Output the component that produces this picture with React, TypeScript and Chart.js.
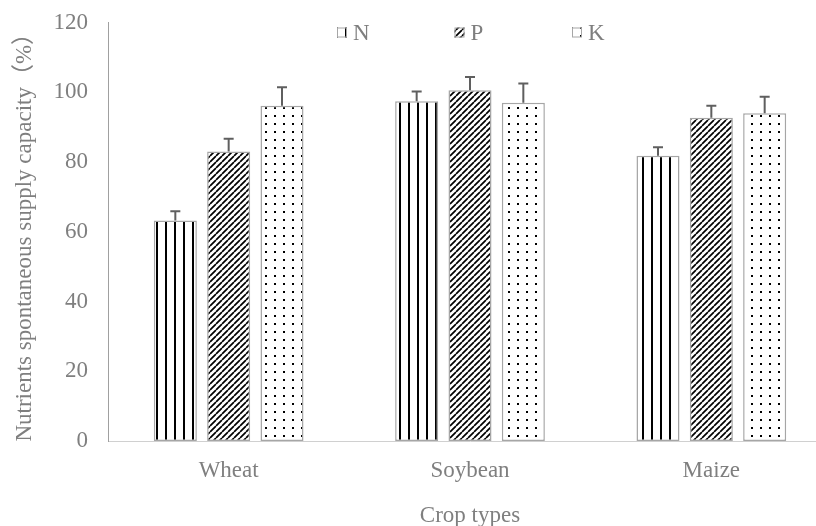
import React, { useEffect, useRef } from 'react';
import { Chart, registerables } from 'chart.js';

Chart.register(...registerables);

const categories = ['Wheat', 'Soybean', 'Maize'];
const seriesNames = ['N', 'P', 'K'];
const nValues = [63.2, 97.4, 81.8];
const pValues = [83.0, 100.6, 92.7];
const kValues = [96.1, 97.0, 94.0];
const nErrors = [2.7, 2.8, 2.4];
const pErrors = [3.7, 3.8, 3.4];
const kErrors = [5.3, 5.5, 4.7];
const yMin = 0;
const yMax = 120;
const yStep = 20;
const xTitle = 'Crop types';
const yTitle = 'Nutrients spontaneous supply capacity（%）';

const FONT = "'Liberation Serif', 'Times New Roman', 'Noto Sans CJK SC', serif";
const TEXT_GRAY = '#7f7f7f';

function makePattern(kind: string): CanvasPattern | string {
  const c = document.createElement('canvas');
  const ctx = c.getContext('2d');
  if (!ctx) return '#ffffff';
  if (kind === 'vertical') {
    c.width = 9; c.height = 4;
    ctx.fillStyle = '#ffffff'; ctx.fillRect(0, 0, 9, 4);
    ctx.fillStyle = '#000000'; ctx.fillRect(3, 0, 2, 4);
  } else if (kind === 'diagonal') {
    const s = 6;
    c.width = s; c.height = s;
    ctx.fillStyle = '#ffffff'; ctx.fillRect(0, 0, s, s);
    ctx.strokeStyle = '#000000'; ctx.lineWidth = 1.7;
    ctx.beginPath();
    for (const o of [-s, 0, s]) {
      ctx.moveTo(o, s); ctx.lineTo(o + s, 0);
    }
    ctx.stroke();
  } else {
    c.width = 9; c.height = 8;
    ctx.fillStyle = '#ffffff'; ctx.fillRect(0, 0, 9, 8);
    ctx.fillStyle = '#000000'; ctx.fillRect(4, 3, 2, 2);
  }
  return ctx.createPattern(c, 'repeat') as CanvasPattern;
}

export default function App() {
  const ref = useRef<HTMLCanvasElement | null>(null);

  useEffect(() => {
    if (!ref.current) return;
    const patterns = [makePattern('vertical'), makePattern('diagonal'), makePattern('dots')];
    const valueSets = [nValues, pValues, kValues];
    const errorSets = [nErrors, pErrors, kErrors];

    const errorBarPlugin = {
      id: 'errorBars',
      afterDatasetsDraw(chart: any) {
        const ctx = chart.ctx;
        const yScale = chart.scales.y;
        chart.data.datasets.forEach((ds: any, i: number) => {
          const meta = chart.getDatasetMeta(i);
          meta.data.forEach((bar: any, j: number) => {
            const top = yScale.getPixelForValue(ds.data[j] + errorSets[i][j]);
            ctx.save();
            ctx.strokeStyle = '#5f5f5f';
            ctx.lineWidth = 2;
            ctx.beginPath();
            ctx.moveTo(bar.x, bar.y);
            ctx.lineTo(bar.x, top);
            ctx.moveTo(bar.x - 5, top);
            ctx.lineTo(bar.x + 5, top);
            ctx.stroke();
            ctx.restore();
          });
        });
      },
    };

    const legendPlugin = {
      id: 'customLegend',
      afterDraw(chart: any) {
        const ctx = chart.ctx;
        const area = chart.chartArea;
        const cx = (area.left + area.right) / 2;
        const startX = cx - 133;
        const pitch = 117.5;
        chart.data.datasets.forEach((ds: any, i: number) => {
          const bx = startX + i * pitch;
          const by = 27.5;
          ctx.save();
          ctx.fillStyle = ds.backgroundColor;
          ctx.fillRect(bx, by, 10, 10);
          ctx.strokeStyle = '#a6a6a6';
          ctx.lineWidth = 1;
          ctx.strokeRect(bx + 0.5, by + 0.5, 9, 9);
          ctx.fillStyle = TEXT_GRAY;
          ctx.font = `23px ${FONT}`;
          ctx.textBaseline = 'alphabetic';
          ctx.textAlign = 'left';
          ctx.fillText(ds.label, bx + 16, 39.5);
          ctx.restore();
        });
      },
    };

    const chart = new Chart(ref.current, {
      type: 'bar',
      data: {
        labels: categories,
        datasets: seriesNames.map((name, i) => ({
          label: name,
          data: valueSets[i],
          backgroundColor: patterns[i] as any,
          borderColor: '#a6a6a6',
          borderWidth: 1.5,
          borderSkipped: false,
          categoryPercentage: 0.663,
          barPercentage: 0.807,
        })),
      },
      options: {
        responsive: false,
        animation: false,
        events: [],
        layout: { padding: { top: 22.5, left: 0, right: 0, bottom: 0 } },
        plugins: {
          legend: { display: false },
          tooltip: { enabled: false },
        },
        scales: {
          x: {
            offset: true,
            grid: { display: false, drawTicks: false },
            border: { display: true, color: '#d0d0d0', width: 1 },
            ticks: { color: TEXT_GRAY, font: { family: FONT, size: 23 }, padding: 16 },
            title: {
              display: true,
              text: xTitle,
              color: TEXT_GRAY,
              font: { family: FONT, size: 23 },
              padding: { top: 0, bottom: 0 },
            },
            afterFit(scale: any) { scale.height = 89; },
          },
          y: {
            min: yMin,
            max: yMax,
            grid: { display: false, drawTicks: true, tickLength: 20 },
            border: { display: true, color: '#a0a0a0', width: 1 },
            ticks: { stepSize: yStep, color: TEXT_GRAY, font: { family: FONT, size: 23 }, padding: 0 },
            title: {
              display: true,
              text: yTitle,
              color: TEXT_GRAY,
              font: { family: FONT, size: 23 },
              padding: { top: 11, bottom: 0 },
            },
            afterFit(scale: any) { scale.width = 108; },
          },
        },
      },
      plugins: [errorBarPlugin, legendPlugin],
    });
    return () => chart.destroy();
  }, []);

  return (
    <div style={{ position: 'fixed', left: 0, top: 0, width: 816, height: 526, overflow: 'hidden', background: '#ffffff' }}>
      <canvas ref={ref} width={832} height={530} style={{ width: 832, height: 530, display: 'block' }} />
    </div>
  );
}
